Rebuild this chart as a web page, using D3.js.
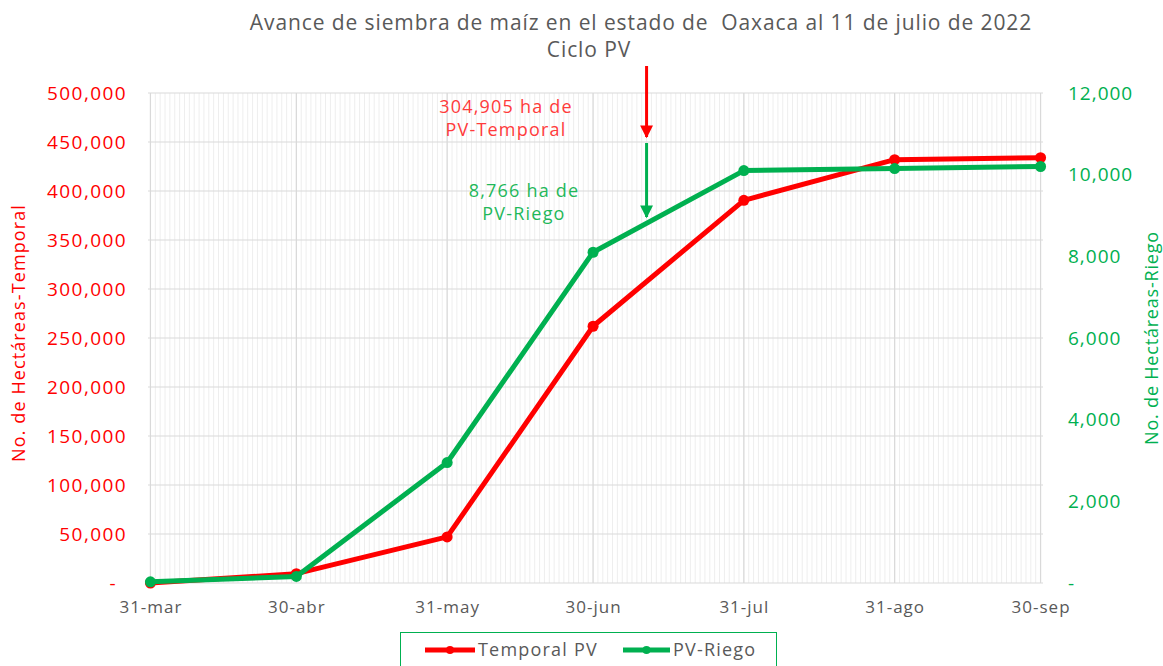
<!DOCTYPE html>
<html>
<head>
<meta charset="utf-8">
<script src="https://cdn.jsdelivr.net/npm/d3@7"></script>
<style>
  body { margin: 0; background: #fff; }
  text { font-family: "Open Sans", "Noto Sans", sans-serif; }
</style>
</head>
<body>
<div id="chart"></div>
<script>
// fechas de corte (eje x)
const fechas = ["2022-03-31", "2022-04-30", "2022-05-31", "2022-06-30", "2022-07-31", "2022-08-31", "2022-09-30"];
const etiquetasX = ["31-mar", "30-abr", "31-may", "30-jun", "31-jul", "31-ago", "30-sep"];

// hectareas sembradas
const temporal = [0, 9500, 47000, 262000, 390500, 432000, 434000];
const riego = [30, 160, 2950, 8100, 10100, 10150, 10200];

// anotaciones al 11 de julio
const fechaCorte = "2022-07-11";
const notaTemporal = ["304,905 ha de", "PV-Temporal"];
const notaRiego = ["8,766 ha de", "PV-Riego"];

const ticksTemporal = d3.range(0, 500001, 50000);
const ticksRiego = d3.range(0, 12001, 2000);

const W = 1163, H = 666;
const margin = { top: 93, bottom: 83, left: 148, right: 120 };
const width = W - margin.left - margin.right;
const height = H - margin.top - margin.bottom;

const rojo = "#ff0000";
const verde = "#00b050";
const gris = "#595959";

const parse = d3.timeParse("%Y-%m-%d");
const dias = fechas.map(parse);

const svg = d3.select("#chart").append("svg")
    .attr("width", W)
    .attr("height", H);

const g = svg.append("g")
    .attr("transform", `translate(${margin.left},${margin.top})`);

// x axis (time scale, half a day of padding each side)
const x = d3.scaleTime()
    .domain([d3.timeHour.offset(dias[0], -12), d3.timeHour.offset(dias[dias.length - 1], 12)])
    .range([0, width]);

const yT = d3.scaleLinear().domain([0, 500000]).range([height, 0]);
const yR = d3.scaleLinear().domain([0, 12000]).range([height, 0]);

// daily gridlines
g.append("g")
    .selectAll("line")
    .data(d3.timeDay.range(dias[0], d3.timeDay.offset(dias[dias.length - 1], 1)))
    .join("line")
    .attr("x1", d => x(d)).attr("x2", d => x(d))
    .attr("y1", 0).attr("y2", height)
    .attr("stroke", "#eeeeee")
    .attr("stroke-width", 1);

// horizontal gridlines
g.append("g")
    .selectAll("line")
    .data(ticksTemporal)
    .join("line")
    .attr("x1", 0).attr("x2", width)
    .attr("y1", d => yT(d)).attr("y2", d => yT(d))
    .attr("stroke", "#d9d9d9")
    .attr("stroke-width", 1.2);

// major vertical gridlines
g.append("g")
    .selectAll("line")
    .data(dias)
    .join("line")
    .attr("x1", d => x(d)).attr("x2", d => x(d))
    .attr("y1", 0).attr("y2", height)
    .attr("stroke", "#d9d9d9")
    .attr("stroke-width", 1.2);

// left axis
const fmt = d => d === 0 ? "-" : d3.format(",")(d);
const axL = g.append("g")
    .call(d3.axisLeft(yT).tickValues(ticksTemporal).tickFormat(fmt).tickSize(0).tickPadding(21));
axL.select(".domain").remove();
axL.selectAll("text")
    .attr("fill", rojo)
    .attr("dx", d => d === 0 ? -10 : 0)
    .style("font-size", "19px")
    .style("letter-spacing", "1.4px");

// right axis
const axR = g.append("g")
    .attr("transform", `translate(${width},0)`)
    .call(d3.axisRight(yR).tickValues(ticksRiego).tickFormat(fmt).tickSize(0).tickPadding(25));
axR.select(".domain").remove();
axR.selectAll("text")
    .attr("fill", verde)
    .style("font-size", "19px")
    .style("letter-spacing", "1px");

// bottom axis
const axB = g.append("g")
    .attr("transform", `translate(0,${height})`)
    .call(d3.axisBottom(x).tickValues(dias).tickFormat((d, i) => etiquetasX[i]).tickSize(0).tickPadding(18));
axB.select(".domain").remove();
axB.selectAll("text")
    .attr("fill", gris)
    .style("font-size", "17px")
    .style("letter-spacing", "1px");

// lines
const lineT = d3.line().x((d, i) => x(dias[i])).y(d => yT(d));
const lineR = d3.line().x((d, i) => x(dias[i])).y(d => yR(d));

g.append("path")
    .datum(temporal)
    .attr("d", lineT)
    .attr("fill", "none")
    .attr("stroke", rojo)
    .attr("stroke-width", 5)
    .attr("stroke-linejoin", "round");

g.append("g")
    .selectAll("circle")
    .data(temporal)
    .join("circle")
    .attr("cx", (d, i) => x(dias[i]))
    .attr("cy", d => yT(d))
    .attr("r", 5.5)
    .attr("fill", rojo);

g.append("path")
    .datum(riego)
    .attr("d", lineR)
    .attr("fill", "none")
    .attr("stroke", verde)
    .attr("stroke-width", 5)
    .attr("stroke-linejoin", "round");

g.append("g")
    .selectAll("circle")
    .data(riego)
    .join("circle")
    .attr("cx", (d, i) => x(dias[i]))
    .attr("cy", d => yR(d))
    .attr("r", 5.5)
    .attr("fill", verde);

// arrows
const defs = svg.append("defs");
[["flechaRoja", rojo], ["flechaVerde", verde]].forEach(([id, c]) => {
    defs.append("marker")
        .attr("id", id)
        .attr("viewBox", "0 0 10 10")
        .attr("refX", 9).attr("refY", 5)
        .attr("markerWidth", 4.3).attr("markerHeight", 4.3)
        .attr("markerUnits", "strokeWidth")
        .attr("orient", "auto")
        .append("path")
        .attr("d", "M0,0 L10,5 L0,10 Z")
        .attr("fill", c);
});

const xc = x(parse(fechaCorte));
g.append("line")
    .attr("x1", xc).attr("x2", xc)
    .attr("y1", -27).attr("y2", 44)
    .attr("stroke", rojo).attr("stroke-width", 3)
    .attr("marker-end", "url(#flechaRoja)");

g.append("line")
    .attr("x1", xc).attr("x2", xc)
    .attr("y1", 50).attr("y2", 124)
    .attr("stroke", verde).attr("stroke-width", 3)
    .attr("marker-end", "url(#flechaVerde)");

// annotation texts
function nota(lineas, cx, y0, color) {
    g.append("text")
        .attr("y", y0)
        .attr("text-anchor", "middle")
        .attr("fill", color)
        .style("font-size", "18px")
        .style("letter-spacing", "1.2px")
        .selectAll("tspan")
        .data(lineas)
        .join("tspan")
        .attr("x", cx)
        .attr("dy", (d, i) => i === 0 ? 0 : 23)
        .text(d => d);
}
nota(notaTemporal, 506 - margin.left, 20, "#ff3b3b");
nota(notaRiego, 524 - margin.left, 104, "#1fb85a");

// title
svg.append("text")
    .attr("x", 641).attr("y", 30)
    .attr("text-anchor", "middle")
    .attr("fill", gris)
    .attr("xml:space", "preserve")
    .style("font-size", "21px")
    .style("letter-spacing", "0.9px")
    .text("Avance de siembra de maíz en el estado de  Oaxaca al 11 de julio de 2022");

svg.append("text")
    .attr("x", 589).attr("y", 57)
    .attr("text-anchor", "middle")
    .attr("fill", gris)
    .style("font-size", "21px")
    .style("letter-spacing", "0.9px")
    .text("Ciclo PV");

// axis titles
svg.append("text")
    .attr("transform", "translate(25,333) rotate(-90)")
    .attr("text-anchor", "middle")
    .attr("fill", rojo)
    .style("font-size", "18px")
    .style("letter-spacing", "1.1px")
    .text("No. de Hectáreas-Temporal");

svg.append("text")
    .attr("transform", "translate(1158,338) rotate(-90)")
    .attr("text-anchor", "middle")
    .attr("fill", verde)
    .style("font-size", "18px")
    .style("letter-spacing", "0.8px")
    .text("No. de Hectáreas-Riego");

// legend
const leg = svg.append("g").attr("transform", "translate(400,632)");
leg.append("rect")
    .attr("x", 0.5).attr("y", 0.5)
    .attr("width", 376).attr("height", 40)
    .attr("fill", "#fff")
    .attr("stroke", verde)
    .attr("stroke-width", 1);

const items = [
    { nombre: "Temporal PV", color: rojo, x0: 25, largo: 50 },
    { nombre: "PV-Riego", color: verde, x0: 223, largo: 47 }
];
const it = leg.selectAll("g.item").data(items).join("g")
    .attr("class", "item")
    .attr("transform", d => `translate(${d.x0},18)`);
it.append("line")
    .attr("x1", 0).attr("x2", d => d.largo)
    .attr("stroke", d => d.color).attr("stroke-width", 5);
it.append("circle").attr("cx", d => d.largo / 2).attr("r", 4).attr("fill", d => d.color);
it.append("text")
    .attr("x", d => d.largo + 3).attr("y", 6)
    .attr("fill", gris)
    .style("font-size", "18px")
    .style("letter-spacing", "1.2px")
    .text(d => d.nombre);
</script>
</body>
</html>
